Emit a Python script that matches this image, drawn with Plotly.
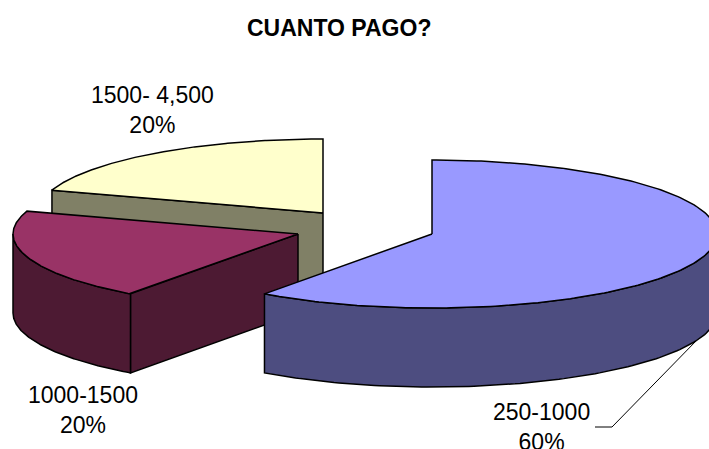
import numpy as np
import plotly.graph_objects as go

categories = ["250-1000", "1000-1500", "1500- 4,500"]
values = [60, 20, 20]
top_colors = ["#9999FF", "#993366", "#FFFFCC"]
side_colors = ["#4D4D80", "#4D1A33", "#808066"]

# geometry of the drawing (pixels)
W, H = 709, 449
RX, RY, DEPTH = 285, 74, 79
centers = [(432, 234), (298, 234), (323, 213)]

total = sum(values)
bounds = np.cumsum([0] + values) / total * 2 * np.pi


def pt(c, a, dz=0.0):
    return c[0] + RX * np.sin(a), c[1] - RY * np.cos(a) + dz


def arc(c, a0, a1, dz=0.0, n=120):
    t = np.linspace(a0, a1, n)
    return c[0] + RX * np.sin(t), c[1] - RY * np.cos(t) + dz


fig = go.Figure()


def poly(xs, ys, color):
    fig.add_trace(go.Scatter(x=list(xs), y=list(ys), mode="lines", fill="toself",
                             fillcolor=color, line=dict(color="black", width=1.5),
                             hoverinfo="skip", showlegend=False))


# draw back to front
for i in [2, 1, 0]:
    c, a0, a1 = centers[i], bounds[i], bounds[i + 1]
    # cut faces turned to the viewer
    if i in (1, 2):
        x, y = pt(c, a0)
        if i == 2:
            # slice 3 starts at the edge facing the viewer
            poly([c[0], x, x, c[0], c[0]], [c[1], y, y + DEPTH, c[1] + DEPTH, c[1]], side_colors[i])
        else:
            poly([c[0], x, x, c[0], c[0]], [c[1], y, y + DEPTH, c[1] + DEPTH, c[1]], side_colors[i])
    # outer wall: front half only
    lo, hi = max(a0, np.pi / 2), min(a1, 3 * np.pi / 2)
    if hi > lo:
        xt, yt = arc(c, lo, hi)
        xb, yb = arc(c, hi, lo, DEPTH)
        poly(np.r_[xt, xb, xt[0]], np.r_[yt, yb, yt[0]], side_colors[i])
    # top face
    xt, yt = arc(c, a0, a1, n=240)
    poly(np.r_[c[0], xt, c[0]], np.r_[c[1], yt, c[1]], top_colors[i])

# leader line of the first label
fig.add_trace(go.Scatter(x=[595, 612, 697], y=[427, 427, 340], mode="lines",
                         line=dict(color="black", width=1), hoverinfo="skip", showlegend=False))

font = dict(family="Liberation Sans, Arial, sans-serif", size=23, color="black")
labels = [(541, 427), (83, 410), (152, 110)]
for (lx, ly), cat, v in zip(labels, categories, values):
    fig.add_annotation(x=lx, y=ly, text=f"{cat}<br>{v}%", showarrow=False, font=font,
                       xanchor="center", yanchor="middle", align="center")

fig.add_annotation(x=339, y=28, text="<b>CUANTO PAGO?</b>", showarrow=False, font=font,
                   xanchor="center", yanchor="middle")

fig.update_layout(width=W, height=H, margin=dict(l=0, r=0, t=0, b=0),
                  paper_bgcolor="white", plot_bgcolor="white",
                  xaxis=dict(range=[0, W], visible=False, fixedrange=True),
                  yaxis=dict(range=[H, 0], visible=False, fixedrange=True))
fig.write_html("out.html", config={"displayModeBar": False},
               post_script="document.body.style.margin='0';document.body.style.overflow='hidden';")
